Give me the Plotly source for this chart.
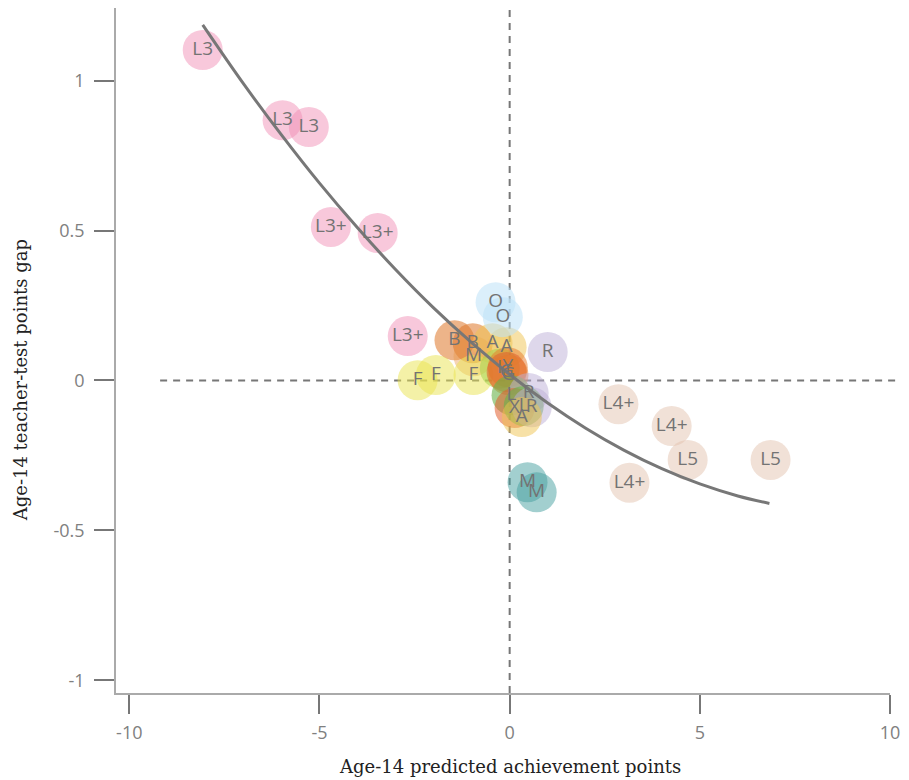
import plotly.graph_objects as go

# ---- data ----
labels = ["L3", "L3", "L3", "L3+", "L3+", "L3+",
          "B", "B", "M", "A", "A", "O", "O", "R",
          "F", "F", "F", "I", "Y", "G", "G",
          "L", "R", "X", "L", "R", "A",
          "M", "M", "L4+", "L4+", "L5", "L5", "L4+"]
x_pred = [-8.07, -5.97, -5.28, -4.70, -3.47, -2.68,
          -1.45, -0.97, -0.95, -0.45, -0.08, -0.37, -0.18, 1.00,
          -2.42, -1.94, -0.95, -0.26, -0.05, -0.08, -0.03,
          0.05, 0.50, 0.13, 0.37, 0.58, 0.32,
          0.47, 0.71, 2.86, 4.26, 4.68, 6.86, 3.15]
y_gap = [1.102, 0.868, 0.845, 0.512, 0.492, 0.148,
         0.134, 0.124, 0.081, 0.124, 0.111, 0.261, 0.211, 0.095,
         0.001, 0.018, 0.018, 0.040, 0.044, 0.028, 0.018,
         -0.049, -0.042, -0.092, -0.085, -0.089, -0.122,
         -0.339, -0.373, -0.079, -0.152, -0.265, -0.265, -0.341]
groups = ["pink", "pink", "pink", "pink", "pink", "pink",
          "orange", "orange", "lightorange", "amber", "amber", "blue", "blue", "lavender",
          "yellow", "yellow", "yellow", "lime", "orange2", "red", "orange2",
          "green", "lavender", "red", "green", "lavender", "amber",
          "teal", "teal", "beige", "beige", "beige", "beige", "beige"]

# fitted curve, read at points along the drawn line
curve_x = [-8.07, -7, -6, -5, -4, -3, -2, -1, 0, 1, 2, 3, 4, 5, 6, 6.83]
curve_y = [1.186, 0.990, 0.819, 0.658, 0.509, 0.370, 0.242, 0.126, 0.020,
           -0.075, -0.159, -0.232, -0.294, -0.345, -0.385, -0.410]

x_ticks = [-10, -5, 0, 5, 10]
x_tick_text = ["-10", "-5", "0", "5", "10"]
y_ticks = [-1, -0.5, 0, 0.5, 1]
y_tick_text = ["-1", "-0.5", "0", "0.5", "1"]

# ---- styles ----
palette = {
    "pink": "rgba(240,140,180,0.48)",
    "orange": "rgba(222,118,40,0.55)",
    "lightorange": "rgba(232,150,70,0.40)",
    "amber": "rgba(240,195,80,0.50)",
    "blue": "rgba(190,225,247,0.55)",
    "lavender": "rgba(190,176,216,0.50)",
    "yellow": "rgba(234,228,80,0.50)",
    "lime": "rgba(165,212,80,0.55)",
    "orange2": "rgba(232,120,40,0.50)",
    "red": "rgba(226,95,45,0.55)",
    "green": "rgba(105,178,75,0.60)",
    "teal": "rgba(70,160,160,0.50)",
    "beige": "rgba(226,192,172,0.48)",
}
colors = [palette[g] for g in groups]
grey = "#777777"
tick_font = dict(family="Open Sans", size=18, color="#808080")
title_font = dict(family="DejaVu Serif", size=18, color="#222222")

fig = go.Figure()

fig.add_trace(go.Scatter(
    x=x_pred, y=y_gap, mode="markers",
    marker=dict(size=40, color=colors, line=dict(width=0)),
    hoverinfo="skip", showlegend=False, cliponaxis=False))

fig.add_trace(go.Scatter(
    x=curve_x, y=curve_y, mode="lines",
    line=dict(color=grey, width=3, shape="spline"),
    hoverinfo="skip", showlegend=False))

fig.add_trace(go.Scatter(
    x=x_pred, y=y_gap, mode="text", text=labels,
    textposition="middle center",
    textfont=dict(family="Open Sans", size=19, color="#737373"),
    hoverinfo="skip", showlegend=False, cliponaxis=False))

# reference lines at zero
fig.add_shape(type="line", xref="paper", yref="y", x0=0.057, x1=1.013, y0=0, y1=0,
              line=dict(color=grey, width=2, dash="7px,6px"), layer="below")
fig.add_shape(type="line", xref="x", yref="paper", x0=0, x1=0, y0=0.0, y1=1.0,
              line=dict(color=grey, width=2, dash="7px,6px"), layer="below")

fig.update_xaxes(range=[-10.35, 10], tickvals=x_ticks, ticktext=x_tick_text,
                 ticks="outside", ticklen=19,
                 tickwidth=2, tickcolor=grey, showline=True, linecolor="#aaaaaa",
                 linewidth=1.5, showgrid=False, zeroline=False, tickfont=tick_font,
                 ticklabelstandoff=4)
fig.update_yaxes(range=[-1.042, 1.242], tickvals=y_ticks, ticktext=y_tick_text,
                 ticks="outside", ticklen=20, tickwidth=2, tickcolor=grey,
                 showline=True, linecolor="#aaaaaa", linewidth=1.5, showgrid=False,
                 zeroline=False, tickfont=tick_font, ticklabelstandoff=6)

fig.add_annotation(text="Age-14 predicted achievement points", x=0, xref="x",
                   y=-0.108, yref="paper", showarrow=False, font=title_font,
                   xanchor="center", yanchor="middle")
fig.add_annotation(text="Age-14 teacher-test points gap", x=-0.123, xref="paper",
                   y=0, yref="y", showarrow=False, font=title_font, textangle=-90,
                   xanchor="center", yanchor="middle")

# the page adds an 8px body margin, so the figure is sized to fit inside the window
fig.update_layout(width=901, height=772, margin=dict(l=108, r=19, t=0, b=87),
                  plot_bgcolor="white", paper_bgcolor="white")

fig.write_html("out.html")
